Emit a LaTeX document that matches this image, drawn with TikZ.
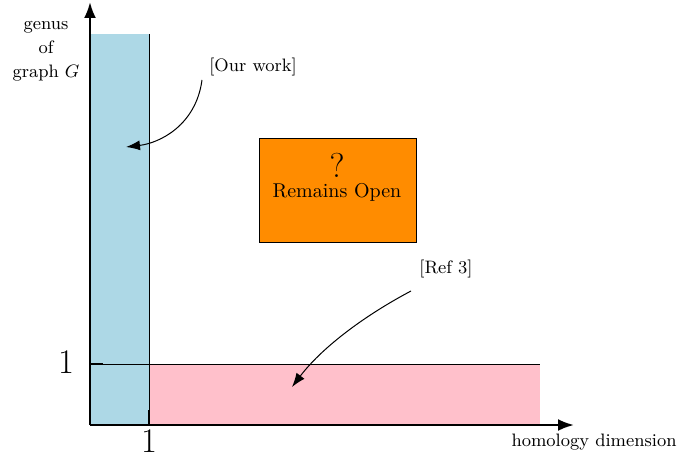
\documentclass[tikz,border=0pt]{standalone}
\usetikzlibrary{arrows.meta}
\definecolor{lblue}{RGB}{173,216,230}
\definecolor{lpink}{RGB}{255,192,203}
\definecolor{dorange}{RGB}{255,140,0}
\begin{document}
\begin{tikzpicture}[x=0.5pt,y=-0.5pt,
  axis/.style={line width=1.2pt,-{Latex[length=8pt,width=6pt]}},
  ann/.style={line width=0.5pt,-{Latex[length=7pt,width=5pt]}},
  lbl/.style={font=\small,inner sep=0pt},
  big/.style={font=\LARGE,inner sep=0pt}]
\useasboundingbox (0,0) rectangle (678,459);
% regions
\fill[lblue] (90,34) rectangle (149,425);
\fill[lpink] (149,364) rectangle (540,425);
\draw[line width=0.5pt] (149,34) -- (149,425);
\draw[line width=0.5pt] (90,364) -- (540,364);
% ticks
\draw[line width=1pt] (90,364) -- (103,364);
\draw[line width=1pt] (149,410) -- (149,425);
% axes
\coordinate (o) at (90,425);
\coordinate (ytip) at (90,2);
\coordinate (xtip) at (574,425);
\draw[axis] (o) -- (ytip);
\draw[axis] (o) -- (xtip);
% labels
\node[big] (one1) at (66,362) {1};
\node[big] (one2) at (149,441) {1};
\node[lbl,align=center] (ylab) at (46,51) {genus\\[1pt]of\\[1pt]graph $G$};
\node[lbl,anchor=east] (xlab) at (677,442) {homology dimension};
% open box
\node[draw,fill=dorange,line width=0.5pt,minimum width=78.5pt,minimum height=52pt,inner sep=0pt] (box) at (337.5,191) {};
\node[font=\LARGE,inner sep=0pt] (q) at (337,165) {?};
\node[font=\normalsize,inner sep=0pt] (ro) at (337,192) {Remains Open};
% annotations
\node[lbl] (ow) at (253,67) {[Our work]};
\node[lbl] (r3) at (446,269) {[Ref 3]};
\coordinate (owa) at (126,147);
\coordinate (r3a) at (292,387);
\draw[ann] (202,80) .. controls (196,125) and (160,143) .. (owa);
\draw[ann] (411,291) .. controls (360,318) and (320,350) .. (r3a);
\end{tikzpicture}
\end{document}
